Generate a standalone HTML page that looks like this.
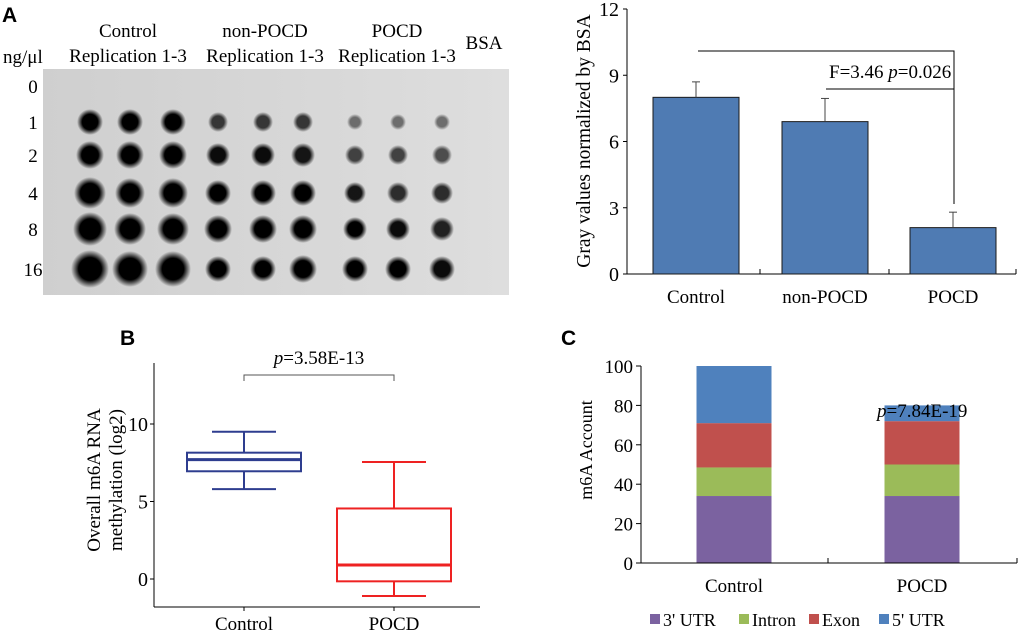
<!DOCTYPE html>
<html><head><meta charset="utf-8"><style>
body{margin:0;background:#fff;}
svg{display:block;font-family:"Liberation Serif",serif;}
svg text{font-family:"Liberation Serif",serif;}
svg text.sans{font-family:"Liberation Sans",sans-serif;}
</style></head><body>
<svg id="fig" width="1020" height="635" viewBox="0 0 1020 635" xmlns="http://www.w3.org/2000/svg">
<defs>
<linearGradient id="blotbg" x1="0" x2="1" y1="0" y2="0"><stop offset="0" stop-color="#cfcfcf"/><stop offset="1" stop-color="#dedede"/></linearGradient>
<radialGradient id="dot"><stop offset="0" stop-color="#000"/><stop offset="0.6" stop-color="#000"/><stop offset="1" stop-color="#000" stop-opacity="0"/></radialGradient>
</defs>
<!-- Panel A blot -->
<text class="sans" x="2" y="22" font-weight="bold" font-size="21">A</text>
<text x="3" y="63" font-size="19">ng/μl</text>
<g font-size="19" text-anchor="middle">
<text x="128" y="37">Control</text>
<text x="128" y="62">Replication 1-3</text>
<text x="265" y="37">non-POCD</text>
<text x="265" y="62">Replication 1-3</text>
<text x="397" y="37">POCD</text>
<text x="397" y="62">Replication 1-3</text>
<text x="484" y="49">BSA</text>
</g>
<rect x="43" y="69" width="466" height="226" fill="url(#blotbg)"/>
<g id="dots"></g>
<g id="rowlabels" font-size="19" text-anchor="middle"></g>

<!-- Panel A bar chart -->
<g id="barA"></g>
<text transform="translate(590,141) rotate(-90)" font-size="19.5" text-anchor="middle">Gray values normalized  by BSA</text>

<!-- Panel B -->
<text class="sans" x="120" y="345" font-weight="bold" font-size="21">B</text>
<g id="boxB"></g>
<text transform="translate(100,480) rotate(-90)" font-size="19" text-anchor="middle">Overall m6A RNA</text>
<text transform="translate(122,480) rotate(-90)" font-size="19" text-anchor="middle">methylation (log2)</text>

<!-- Panel C -->
<text class="sans" x="561" y="345" font-weight="bold" font-size="21">C</text>
<g id="stackC"></g>
<text transform="translate(592,450) rotate(-90)" font-size="18" text-anchor="middle">m6A Account</text>
</svg>
<script>
// ---- Dot blot data ----
const blotRows = ["0","1","2","4","8","16"];
const blotIntensity = [
 [0,0,0,0,0,0,0,0,0],
 [1,1,1,0.75,0.75,0.75,0.5,0.5,0.5],
 [1,1,1,0.95,0.95,0.9,0.7,0.7,0.65],
 [1,1,1,1,1,1,0.9,0.8,0.8],
 [1,1,1,1,1,1,1,0.95,0.85],
 [1,1,1,1,1,1,1,1,0.95]];
const blotSize = [
 [0,0,0,0,0,0,0,0,0],
 [13,13,13,10,10,10,8,8,8],
 [14,14,14,12,12,12,10,10,10],
 [16,15,15,13,13,13,11,11,11],
 [17,16,16,14,14,14,12,12,12],
 [19,18,18,13,13,14,13,13,13]];
// ---- Bar chart A data ----
const barCats = ["Control","non-POCD","POCD"];
const barVals = [8.0,6.9,2.1];
const barErr = [0.7,1.05,0.7];
const barTicks = [0,3,6,9,12];
// ---- Box plot B data ----
const boxCats = ["Control","POCD"];
const boxMin = [5.8,-1.1];
const boxQ1 = [6.95,-0.15];
const boxMed = [7.7,0.9];
const boxQ3 = [8.15,4.55];
const boxMax = [9.5,7.55];
const boxColors = ["#2e3d8f","#ee2222"];
const boxTicks = [0,5,10];
// ---- Stacked C data ----
const stackCats = ["Control","POCD"];
const stackSeries = ["3' UTR","Intron","Exon","5' UTR"];
const stack3UTR = [34,34];
const stackIntron = [14.5,16];
const stackExon = [22.5,22];
const stack5UTR = [29,8];
const stackColors = ["#7b62a0","#9bbb59","#c0504d","#4f81bd"];
const stackTicks = [0,20,40,60,80,100];

const NS="http://www.w3.org/2000/svg";
function mk(parent,tag,attrs,text){const e=document.createElementNS(NS,tag);for(const k in attrs)e.setAttribute(k,attrs[k]);if(text!==undefined)e.textContent=text;parent.appendChild(e);return e;}

// Blot
const dotsG=document.getElementById('dots'), rowG=document.getElementById('rowlabels');
const colX=c=>[90,130,173,218,263,303,355,398,442][c];
const rowY=r=>86+[0,36,69,107,143,183][r];
blotRows.forEach((lab,r)=>{
 const t=mk(rowG,'text',{x:33,y:rowY(r)+7},lab);
 
 
 blotIntensity[r].forEach((v,c)=>{ if(v<=0)return;
  const d=mk(dotsG,'circle',{cx:colX(c),cy:rowY(r),r:blotSize[r][c],fill:'url(#dot)','fill-opacity':v});
  
  
 });
});

// Bar A
(function(){
 const g=document.getElementById('barA');
 const x0=627,x1=1016,y0=274,y1=9;
 const ys=v=>y0-(v/12)*(y0-y1);
 const bw=86, cx=i=>[696,825,953][i];
 mk(g,'line',{x1:x0,y1:y1,x2:x0,y2:y0,stroke:'#000','stroke-width':1});
 mk(g,'line',{x1:x0,y1:y0,x2:x1,y2:y0,stroke:'#000','stroke-width':1});
 [760,889,1016].forEach(x=>mk(g,'line',{x1:x,y1:y0,x2:x,y2:y0-5,stroke:'#000'}));
 barTicks.forEach(t=>{mk(g,'line',{x1:x0-4,y1:ys(t),x2:x0,y2:ys(t),stroke:'#000'});
  const tl=mk(g,'text',{x:x0-8,y:ys(t)+7,'font-size':20,'text-anchor':'end'},t);
  
  });
 barCats.forEach((c,i)=>{
  const b=mk(g,'rect',{x:cx(i)-bw/2,y:ys(barVals[i]),width:bw,height:y0-ys(barVals[i]),fill:'#4f7bb3',stroke:'#1a1a1a','stroke-width':1});
  
  
  mk(g,'line',{x1:cx(i),y1:ys(barVals[i]),x2:cx(i),y2:ys(barVals[i]+barErr[i]),stroke:'#444'});
  mk(g,'line',{x1:cx(i)-4,y1:ys(barVals[i]+barErr[i]),x2:cx(i)+4,y2:ys(barVals[i]+barErr[i]),stroke:'#444'});
  const l=mk(g,'text',{x:cx(i),y:303,'font-size':19,'text-anchor':'middle'},c);
  
  
 });
 mk(g,'polyline',{points:'698,51 954,51 954,204',fill:'none',stroke:'#000'});
 mk(g,'line',{x1:826,y1:89,x2:954,y2:89,stroke:'#000'});
 const t=mk(g,'text',{x:829,y:78,'font-size':19});
 
 
 t.innerHTML='F=3.46 <tspan font-style="italic">p</tspan>=0.026';
})();

// Box B
(function(){
 const g=document.getElementById('boxB');
 const x0=154,x1=480,yt=363,yb=607;
 const ys=v=>579-v*15.5;
 const cx=i=>[244,394][i];
 mk(g,'line',{x1:x0,y1:yt,x2:x0,y2:yb,stroke:'#000'});
 mk(g,'line',{x1:x0,y1:yb,x2:x1,y2:yb,stroke:'#000'});
 boxTicks.forEach(t=>{mk(g,'line',{x1:x0-4,y1:ys(t),x2:x0,y2:ys(t),stroke:'#000'});
  const tl=mk(g,'text',{x:x0-6,y:ys(t)+7,'font-size':20,'text-anchor':'end'},t);
  
  });
 boxCats.forEach((c,i)=>{
  const col=boxColors[i], x=cx(i), hw=57, cw=32;
  mk(g,'line',{x1:x,y1:yb,x2:x,y2:yb+4,stroke:'#000'});
  mk(g,'line',{x1:x,y1:ys(boxMax[i]),x2:x,y2:ys(boxQ3[i]),stroke:col,'stroke-width':2});
  mk(g,'line',{x1:x,y1:ys(boxMin[i]),x2:x,y2:ys(boxQ1[i]),stroke:col,'stroke-width':2});
  mk(g,'line',{x1:x-cw,y1:ys(boxMax[i]),x2:x+cw,y2:ys(boxMax[i]),stroke:col,'stroke-width':2});
  mk(g,'line',{x1:x-cw,y1:ys(boxMin[i]),x2:x+cw,y2:ys(boxMin[i]),stroke:col,'stroke-width':2});
  const b=mk(g,'rect',{x:x-hw,y:ys(boxQ3[i]),width:2*hw,height:ys(boxQ1[i])-ys(boxQ3[i]),fill:'none',stroke:col,'stroke-width':2});
  
  
  mk(g,'line',{x1:x-hw,y1:ys(boxMed[i]),x2:x+hw,y2:ys(boxMed[i]),stroke:col,'stroke-width':3});
  const l=mk(g,'text',{x:x,y:630,'font-size':19,'text-anchor':'middle'},c);
  
  
 });
 mk(g,'polyline',{points:'244,381 244,375 394,375 394,381',fill:'none',stroke:'#555'});
 const t=mk(g,'text',{x:319,y:364,'font-size':19,'text-anchor':'middle'});
 
 
 t.innerHTML='<tspan font-style="italic">p</tspan>=3.58E-13';
})();

// Stack C
(function(){
 const g=document.getElementById('stackC');
 const x0=641,x1=1017,y0=563,y1=366;
 const ys=v=>y0-v*(y0-y1)/100;
 const cx=i=>[734,922][i], bw=75;
 const series=[stack3UTR,stackIntron,stackExon,stack5UTR];
 stackCats.forEach((c,i)=>{
  let acc=0;
  series.forEach((s,k)=>{
   const r=mk(g,'rect',{x:cx(i)-bw/2,y:ys(acc+s[i]),width:bw,height:ys(acc)-ys(acc+s[i]),fill:stackColors[k]});
   
   
   acc+=s[i];
  });
  const l=mk(g,'text',{x:cx(i),y:592,'font-size':19,'text-anchor':'middle'},c);
  
  
 });
 mk(g,'line',{x1:x0,y1:y1,x2:x0,y2:y0,stroke:'#000'});
 mk(g,'line',{x1:x0,y1:y0,x2:x1,y2:y0,stroke:'#000'});
 [828,1017].forEach(x=>mk(g,'line',{x1:x,y1:y0,x2:x,y2:y0-5,stroke:'#000'}));
 stackTicks.forEach(t=>{mk(g,'line',{x1:x0-5,y1:ys(t),x2:x0,y2:ys(t),stroke:'#000'});
  const tl=mk(g,'text',{x:x0-8,y:ys(t)+7,'font-size':19,'text-anchor':'end'},t);
  
  });
 const t=mk(g,'text',{x:877,y:417,'font-size':19});
 
 
 t.innerHTML='<tspan font-style="italic">p</tspan>=7.84E-19';
 const lx=[650,739,809,879];
 stackSeries.forEach((s,k)=>{
  const sq=mk(g,'rect',{x:lx[k],y:614,width:10,height:10,fill:stackColors[k]});
  
  
  const tx=mk(g,'text',{x:lx[k]+13,y:626,'font-size':18},s);
  
  
 });
})();
</script>
</body></html>
